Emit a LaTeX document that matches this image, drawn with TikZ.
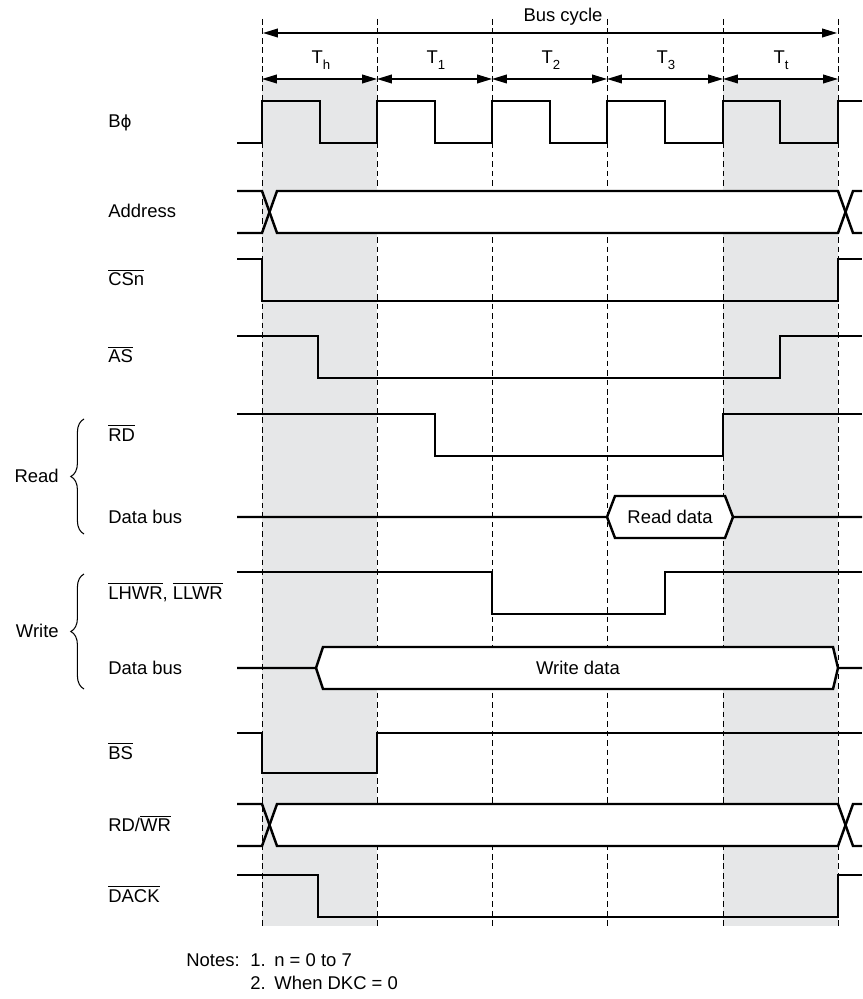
\documentclass[tikz,border=0pt]{standalone}
\usepackage{fontspec}
\setmainfont{Liberation Sans}
\newfontfamily\phifont{DejaVu Sans}
\usetikzlibrary{arrows.meta,decorations.pathreplacing}
\definecolor{shadegray}{HTML}{E6E7E8}
\newcommand{\subl}[1]{\raisebox{-3.4pt}{\fontsize{7.5}{8}\selectfont #1}}
\begin{document}
\begin{tikzpicture}[x=0.02cm,y=-0.02cm,
  every node/.style={font=\fontsize{10.5}{12.6}\selectfont},
  sig/.style={line width=1.4pt, line join=miter},
  gridline/.style={line width=0.5pt, dash pattern=on 3.2pt off 2.2pt},
  dimarrow/.style={line width=0.7pt, {Triangle[length=8.5pt,width=5pt]}-{Triangle[length=8.5pt,width=5pt]}},
  lab/.style={anchor=base west, inner sep=0pt},
  tlab/.style={anchor=base, inner sep=0pt},
  brc/.style={decorate, decoration={brace, amplitude=7.5pt}, line width=0.6pt},
  ]
\useasboundingbox (0,0) rectangle (862,999);
% shaded periods
\fill[shadegray] (262,79) rectangle (377,926);
\fill[shadegray] (723,79) rectangle (838,926);
% dashed period boundaries
\foreach \x in {262,377,492,607,723,838} \draw[gridline] (\x,19) -- (\x,926);
% bus interiors (white)
\fill[white] (269,212) -- (277,191) -- (838,191) -- (845,212) -- (838,233) -- (277,233) -- cycle;
\fill[white] (607,517) -- (615,496) -- (725,496) -- (733,517) -- (725,538) -- (615,538) -- cycle;
\fill[white] (316,668) -- (323,647) -- (833,647) -- (838,668) -- (833,689) -- (323,689) -- cycle;
\fill[white] (269,825) -- (277,804) -- (838,804) -- (845,825) -- (838,846) -- (277,846) -- cycle;
% bus cycle / state arrows
\coordinate (bc0) at (263,33);
\coordinate (bc1) at (837,33);
\draw[dimarrow] (bc0) -- (bc1);
\node[tlab] (buscycle) at (563,22) {Bus cycle};
\foreach \i/\x in {0/262,1/377,2/492,3/607,4/723,5/838} \coordinate (t\i) at (\x,79);
\draw[dimarrow] (t0) -- (t1);
\draw[dimarrow] (t1) -- (t2);
\draw[dimarrow] (t2) -- (t3);
\draw[dimarrow] (t3) -- (t4);
\draw[dimarrow] (t4) -- (t5);
\node[tlab] (th) at (321,64) {T\subl{h}};
\node[tlab] (t1l) at (436,64) {T\subl{1}};
\node[tlab] (t2l) at (551,64) {T\subl{2}};
\node[tlab] (t3l) at (666,64) {T\subl{3}};
\node[tlab] (ttl) at (781,64) {T\subl{t}};
% B phi clock
\draw[sig] (237,143) -- (262,143) -- (262,101) -- (320,101) -- (320,143) -- (377,143) -- (377,101) -- (435,101) -- (435,143) -- (492,143) -- (492,101) -- (550,101) -- (550,143) -- (607,143) -- (607,101) -- (665,101) -- (665,143) -- (723,143) -- (723,101) -- (780,101) -- (780,143) -- (838,143) -- (838,101) -- (862,101);
% Address
\draw[sig] (237,191) -- (262,191) -- (277,233) -- (838,233) -- (853,191) -- (862,191);
\draw[sig] (237,233) -- (262,233) -- (277,191) -- (838,191) -- (853,233) -- (862,233);
% CSn
\draw[sig] (237,259) -- (262,259) -- (262,301) -- (838,301) -- (838,259) -- (862,259);
% AS
\draw[sig] (237,336) -- (318,336) -- (318,378) -- (780,378) -- (780,336) -- (862,336);
% RD
\draw[sig] (237,414) -- (435,414) -- (435,456) -- (723,456) -- (723,414) -- (862,414);
% Read data bus
\draw[sig] (237,517) -- (607,517) -- (615,496) -- (725,496) -- (733,517) -- (862,517);
\draw[sig] (607,517) -- (615,538) -- (725,538) -- (733,517);
\node (readdata) at (670,517) {Read data};
% LHWR
\draw[sig] (237,572) -- (492,572) -- (492,614) -- (665,614) -- (665,572) -- (862,572);
% Write data bus
\draw[sig] (237,668) -- (316,668) -- (323,647) -- (833,647) -- (838,668) -- (862,668);
\draw[sig] (316,668) -- (323,689) -- (833,689) -- (838,668);
\node (writedata) at (578,668) {Write data};
% BS
\draw[sig] (237,733) -- (262,733) -- (262,773) -- (377,773) -- (377,733) -- (862,733);
% RD/WR
\draw[sig] (237,804) -- (262,804) -- (277,846) -- (838,846) -- (853,804) -- (862,804);
\draw[sig] (237,846) -- (262,846) -- (277,804) -- (838,804) -- (853,846) -- (862,846);
% DACK
\draw[sig] (237,875) -- (318,875) -- (318,917) -- (838,917) -- (838,875) -- (862,875);
% signal labels
\node[lab] (lphi) at (108,128) {B{\phifont\fontsize{9.5}{11}\selectfont ϕ}};
\node[lab] (laddr) at (108,218) {Address};
\node[lab] (lcs) at (108,286) {$\overline{\mbox{CSn}}$};
\node[lab] (las) at (108,363) {$\overline{\mbox{AS}}$};
\node[lab] (lrd) at (108,441) {$\overline{\mbox{RD}}$};
\node[lab] (ldbr) at (108,523) {Data bus};
\node[lab] (lwr) at (108,599) {$\overline{\mbox{LHWR}}$, $\overline{\mbox{LLWR}}$};
\node[lab] (ldbw) at (108,674) {Data bus};
\node[lab] (lbs) at (108,759) {$\overline{\mbox{BS}}$};
\node[lab] (lrdwr) at (108,831) {RD/$\overline{\mbox{WR}}$};
\node[lab] (ldack) at (108,902) {$\overline{\mbox{DACK}}$};
% braces
\draw[brc] (84,534) -- (84,419);
\draw[brc] (84,689) -- (84,574);
\node[anchor=east, inner sep=0pt] (lread) at (59,476) {Read};
\node[anchor=east, inner sep=0pt] (lwrite) at (59,631) {Write};
% notes
\node[anchor=base east, inner sep=0pt] (notes) at (240,966) {Notes:};
\node[anchor=base west, inner sep=0pt] (n1) at (250,966) {1.};
\node[anchor=base west, inner sep=0pt] (n1t) at (274,966) {n = 0 to 7};
\node[anchor=base west, inner sep=0pt] (n2) at (250,989) {2.};
\node[anchor=base west, inner sep=0pt] (n2t) at (274,989) {When DKC = 0};
\end{tikzpicture}
\end{document}
